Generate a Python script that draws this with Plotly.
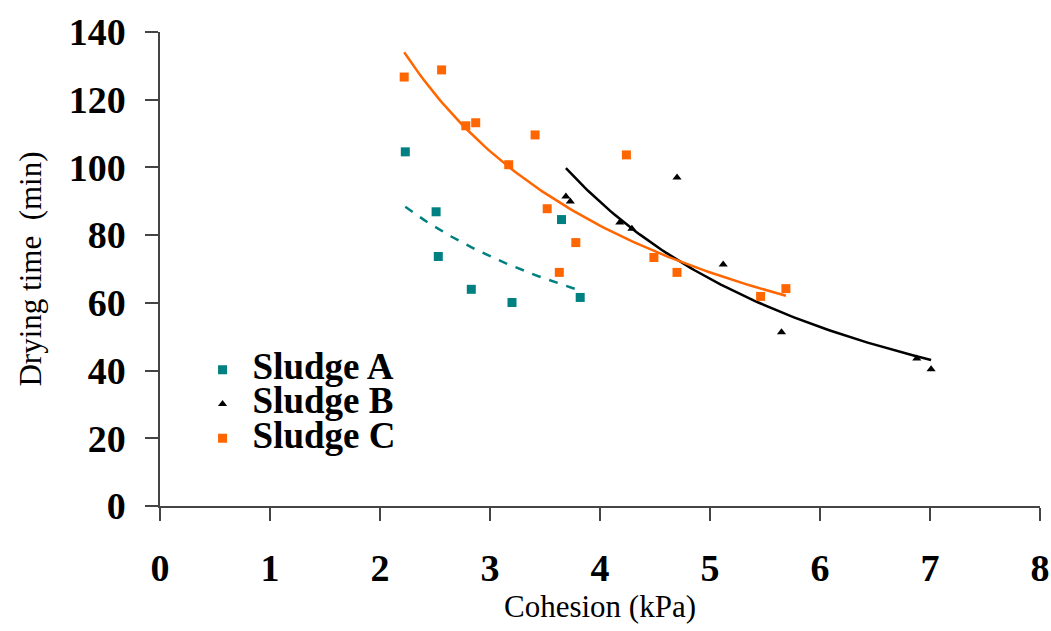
import numpy as np
import plotly.graph_objects as go

# Sludge A
a_x = [2.23, 2.51, 2.53, 2.83, 3.20, 3.65, 3.82]
a_y = [104.6, 86.9, 73.7, 64.0, 60.1, 84.6, 61.6]
# Sludge B
b_x = [3.69, 3.73, 4.18, 4.29, 4.70, 5.12, 5.65, 6.88, 7.01]
b_y = [91.4, 89.9, 83.7, 81.9, 97.0, 71.3, 51.3, 43.6, 40.4]
# Sludge C
c_x = [2.22, 2.56, 2.78, 2.87, 3.17, 3.41, 3.52, 3.78, 3.63, 4.24, 4.49, 4.70, 5.46, 5.69]
c_y = [126.7, 128.8, 112.3, 113.2, 100.8, 109.6, 87.8, 77.8, 69.0, 103.7, 73.4, 69.0, 61.9, 64.2]

names = ["Sludge A", "Sludge B", "Sludge C"]
colors = ["#008080", "#000000", "#FF6600"]
symbols = ["square", "triangle-up", "square"]
dashes = ["dash", "solid", "solid"]

x_ticks = [0, 1, 2, 3, 4, 5, 6, 7, 8]
y_ticks = [0, 20, 40, 60, 80, 100, 120, 140]

SERIF = "Liberation Serif, Times New Roman, serif"

fig = go.Figure()


def power_fit(xs, ys):
    lx, ly = np.log(xs), np.log(ys)
    b, ln_a = np.polyfit(lx, ly, 1)
    xf = np.linspace(min(xs), max(xs), 100)
    return xf, np.exp(ln_a) * xf ** b


for xs, ys, col, dash in zip([a_x, b_x, c_x], [a_y, b_y, c_y], colors, dashes):
    xf, yf = power_fit(xs, ys)
    fig.add_trace(go.Scatter(x=xf, y=yf, mode="lines", showlegend=False,
                             line=dict(color=col, width=2.5, dash=dash),
                             hoverinfo="skip"))

for xs, ys, name, col, sym in zip([a_x, b_x, c_x], [a_y, b_y, c_y], names, colors, symbols):
    fig.add_trace(go.Scatter(x=xs, y=ys, mode="markers",
                             name='<span style="font-size:37px">' + name + '</span>',
                             marker=dict(color=col, symbol=sym,
                                         size=9 if sym == "square" else 8,
                                         line=dict(width=0))))

fig.update_layout(
    width=1051, height=631,
    margin=dict(l=160, r=11, t=32, b=125),
    paper_bgcolor="white", plot_bgcolor="white",
    font=dict(family=SERIF, color="black"),
    showlegend=True,
    legend=dict(x=0.037, y=0.334, xanchor="left", yanchor="top",
                font=dict(family=SERIF, size=24, color="black", weight="bold"),
                bgcolor="rgba(0,0,0,0)", tracegroupgap=0, itemwidth=50),
    xaxis=dict(range=[0, 8], tickvals=x_ticks, ticktext=[str(v) for v in x_ticks],
               automargin=False,
               showgrid=False, zeroline=False, showline=True, linecolor="#444",
               linewidth=1.5, ticks="outside", ticklen=13, tickcolor="#444",
               tickwidth=1.5, ticklabelstandoff=15,
               tickfont=dict(family=SERIF, size=38, color="black", weight="bold"),
               title=dict(text="Cohesion (kPa)", font=dict(family=SERIF, size=31, color="black"),
                          standoff=6)),
    yaxis=dict(range=[0, 140], tickvals=y_ticks, ticktext=[str(v) for v in y_ticks],
               automargin=False,
               showgrid=False, zeroline=False, showline=True, linecolor="#444",
               linewidth=1.5, ticks="outside", ticklen=13, tickcolor="#444",
               tickwidth=1.5, ticklabelstandoff=12,
               tickfont=dict(family=SERIF, size=38, color="black", weight="bold"),
               title=dict(text="Drying time \u00a0(min)", font=dict(family=SERIF, size=31, color="black"),
                          standoff=18)),
)

fig.write_html("out.html")
